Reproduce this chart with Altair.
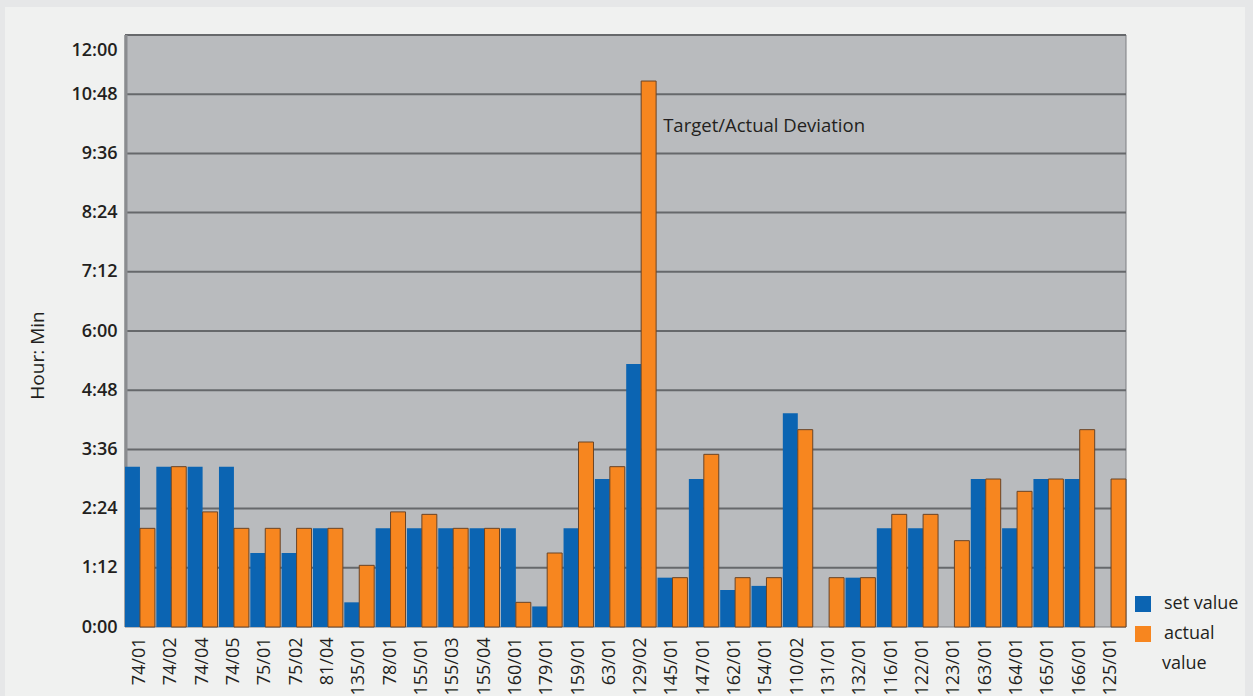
import altair as alt
import pandas as pd

categories = ["74/01", "74/02", "74/04", "74/05", "75/01", "75/02", "81/04", "135/01",
              "78/01", "155/01", "155/03", "155/04", "160/01", "179/01", "159/01", "63/01",
              "129/02", "145/01", "147/01", "162/01", "154/01", "110/02", "131/01", "132/01",
              "116/01", "122/01", "123/01", "163/01", "164/01", "165/01", "166/01", "125/01"]
# minutes
set_values = [195, 195, 195, 195, 90, 90, 120, 30,
              120, 120, 120, 120, 120, 25, 120, 180,
              320, 60, 180, 45, 50, 260, None, 60,
              120, 120, None, 180, 120, 180, 180, None]
actual_values = [120, 195, 140, 120, 120, 120, 120, 75,
                 140, 137, 120, 120, 30, 90, 225, 195,
                 664, 60, 210, 60, 60, 240, 60, 60,
                 137, 137, 105, 180, 165, 180, 240, 180]
series_names = ["set value", "actual value"]
tick_values = [0, 72, 144, 216, 288, 360, 432, 504, 576, 648, 720]
annotation = ["Target/Actual Deviation"]
annotation_cat = ["129/02"]
annotation_min = [609]
legend_wrap = ["value"]

rows = []
for c, s, a in zip(categories, set_values, actual_values):
    if s is not None:
        rows.append({"cat": c, "series": series_names[0], "minutes": s})
    if a is not None:
        rows.append({"cat": c, "series": series_names[1], "minutes": a})
df = pd.DataFrame(rows)
grid_df = pd.DataFrame({"t": tick_values[1:]})
ann_df = pd.DataFrame({"cat": annotation_cat, "minutes": annotation_min, "label": annotation})
wrap_df = pd.DataFrame({"label": legend_wrap})

W, H = 1001, 592
FONT = "Open Sans"
TXT = "#231f20"

yscale = alt.Scale(domain=[0, 720], nice=False, zero=True)
xscale = alt.Scale(domain=categories, paddingInner=0.045, paddingOuter=0)

base_dummy = pd.DataFrame({"d": [0]})

panel = alt.Chart(base_dummy).mark_rect(fill="#f0f1f0").encode(
    x=alt.value(-120), x2=alt.value(1120), y=alt.value(-28), y2=alt.value(700)
)
plotbg = alt.Chart(base_dummy).mark_rect(fill="#b9bbbe", stroke="#7d7f82", strokeWidth=1).encode(
    x=alt.value(0), x2=alt.value(W), y=alt.value(0), y2=alt.value(H)
)
leftedge = alt.Chart(base_dummy).mark_rule(color="#8a8c8f", strokeWidth=3).encode(
    x=alt.value(1), y=alt.value(0), y2=alt.value(H)
)
grid = alt.Chart(grid_df).mark_rule(color="#66686b", strokeWidth=2).encode(
    y=alt.Y("t:Q", scale=yscale),
    x=alt.value(0), x2=alt.value(W)
)

label_expr = "floor(datum.value/60) + ':' + (datum.value % 60 < 10 ? '0' : '') + (datum.value % 60)"

bars = alt.Chart(df).mark_bar(strokeWidth=1).encode(
    x=alt.X("cat:N", sort=categories, scale=xscale,
            axis=alt.Axis(title=None, labelAngle=-90, labelFontSize=18, labelFontWeight=500,
                          labelFont=FONT, labelColor=TXT, ticks=False, domain=False,
                          labelPadding=10, labelAlign="right", labelBaseline="middle", zindex=1)),
    xOffset=alt.XOffset("series:N", sort=series_names, scale=alt.Scale(paddingInner=0, paddingOuter=0)),
    y=alt.Y("minutes:Q", scale=yscale,
            axis=alt.Axis(title="Hour: Min", values=tick_values, labelExpr=label_expr,
                          labelFontSize=18, labelFontWeight=600, labelFont=FONT, labelColor=TXT,
                          labelOffset={"condition": {"test": "datum.value == 720", "value": 15}, "value": 0},
                          ticks=False, domain=False, grid=False, labelPadding=8, zindex=1,
                          titleFont=FONT, titleFontSize=19, titleFontWeight=500, titleColor=TXT,
                          titleX=-88, titleY=320, titleAngle=-90, titleAlign="center",
                          titleBaseline="middle")),
    color=alt.Color("series:N", sort=series_names,
                    scale=alt.Scale(domain=series_names, range=["#0b64b2", "#f7861f"]),
                    legend=alt.Legend(title=None, orient="none", legendX=1009, legendY=560,
                                      symbolType="square", symbolSize=256, symbolStrokeWidth=0,
                                      labelFont=FONT, labelFontSize=18, labelFontWeight=500,
                                      labelColor=TXT, labelOffset=12, rowPadding=12, padding=0,
                                      labelExpr="datum.label == 'actual value' ? 'actual' : datum.label")),
    stroke=alt.condition("datum.series == 'actual value'", alt.value("#6a4426"), alt.value("transparent")),
)

ann = alt.Chart(ann_df).mark_text(align="left", baseline="middle", dx=22, font=FONT,
                                  fontSize=18.5, fontWeight=500, color=TXT).encode(
    x=alt.X("cat:N", sort=categories, scale=xscale),
    y=alt.Y("minutes:Q", scale=yscale),
    text="label:N"
)

wrap = alt.Chart(wrap_df).mark_text(align="left", baseline="middle", font=FONT,
                                    fontSize=18, fontWeight=500, color=TXT).encode(
    x=alt.value(1037), y=alt.value(629), text="label:N"
)

chart = alt.layer(panel, plotbg, grid, leftedge, bars, ann, wrap).properties(
    width=W, height=H,
    autosize=alt.AutoSizeParams(type="none"),
    padding={"left": 125, "top": 35, "right": 127, "bottom": 69},
    background="#e6e7e8",
).configure_view(stroke=None)

chart.save("out.html", embed_options={"renderer": "svg", "actions": False})
